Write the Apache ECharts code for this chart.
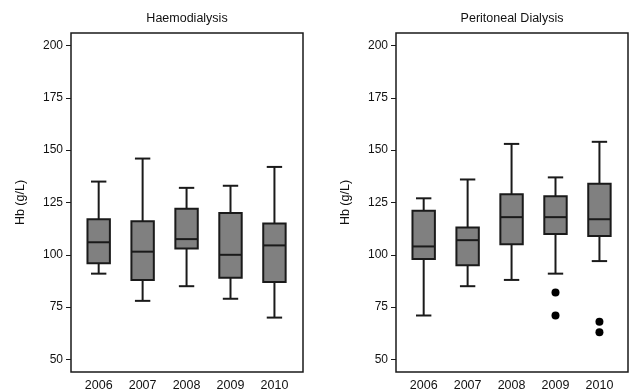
<!DOCTYPE html>
<html>
<head>
<meta charset="utf-8">
<script src="https://cdn.jsdelivr.net/npm/echarts@6/dist/echarts.min.js"></script>
<style>
html,body{margin:0;padding:0;background:#fff;}
#chart{width:635px;height:392px;}
</style>
</head>
<body>
<div id="chart"></div>
<script>
// ---- data ----
const years = ['2006', '2007', '2008', '2009', '2010'];
const yTicks = [50, 75, 100, 125, 150, 175, 200];
const panelTitles = ['Haemodialysis', 'Peritoneal Dialysis'];

// Haemodialysis
const hdLow    = [91, 78, 85, 79, 70];
const hdQ1     = [96, 88, 103, 89, 87];
const hdMedian = [106, 101.5, 107.5, 100, 104.5];
const hdQ3     = [117, 116, 122, 120, 115];
const hdHigh   = [135, 146, 132, 133, 142];
const hdOutliers = [];

// Peritoneal Dialysis
const pdLow    = [71, 85, 88, 91, 97];
const pdQ1     = [98, 95, 105, 110, 109];
const pdMedian = [104, 107, 118, 118, 117];
const pdQ3     = [121, 113, 129, 128, 134];
const pdHigh   = [127, 136, 153, 137, 154];
const pdOutliers = [[4, 82], [4, 71], [5, 68], [5, 63]]; // [year index (1-based), value]

// ---- build ----
function boxData(lo, q1, med, q3, hi) {
  return years.map((y, i) => [i + 1, lo[i], q1[i], med[i], q3[i], hi[i]]);
}

const BOX_W = 0.51;  // in x-axis units
const CAP_W = 0.35;
const INK = '#1a1a1a';
const FONT = 'Liberation Sans, Arial, sans-serif';

function renderBox(params, api) {
  const x = api.value(0);
  const lo = api.coord([x, api.value(1)]);
  const q1 = api.coord([x, api.value(2)]);
  const md = api.coord([x, api.value(3)]);
  const q3 = api.coord([x, api.value(4)]);
  const hi = api.coord([x, api.value(5)]);
  const bw = api.size([BOX_W, 0])[0];
  const cw = api.size([CAP_W, 0])[0];
  const cx = lo[0];
  const ls = { stroke: INK, lineWidth: 2 };
  return {
    type: 'group',
    children: [
      { type: 'line', shape: { x1: cx, y1: q3[1], x2: cx, y2: hi[1] }, style: ls },
      { type: 'line', shape: { x1: cx - cw / 2, y1: hi[1], x2: cx + cw / 2, y2: hi[1] }, style: ls },
      { type: 'line', shape: { x1: cx, y1: q1[1], x2: cx, y2: lo[1] }, style: ls },
      { type: 'line', shape: { x1: cx - cw / 2, y1: lo[1], x2: cx + cw / 2, y2: lo[1] }, style: ls },
      { type: 'rect', shape: { x: cx - bw / 2, y: q3[1], width: bw, height: q1[1] - q3[1] },
        style: { fill: '#808080', stroke: INK, lineWidth: 2 } },
      { type: 'line', shape: { x1: cx - bw / 2, y1: md[1], x2: cx + bw / 2, y2: md[1] }, style: ls }
    ]
  };
}

const gridLefts = [71, 396];
const grids = gridLefts.map(l => ({
  left: l, width: 232, top: 33, height: 339.5,
  show: true, borderColor: INK, borderWidth: 1.5, backgroundColor: 'transparent'
}));

const xAxes = [0, 1].map(g => ({
  type: 'value', gridIndex: g, min: 0.37, max: 5.65,
  axisLine: { show: false }, axisTick: { show: false }, splitLine: { show: false },
  axisLabel: {
    customValues: [1, 2, 3, 4, 5],
    formatter: v => years[Math.round(v) - 1] || '',
    color: '#111', fontSize: 12.5, fontFamily: FONT, margin: 7
  }
}));

const yAxes = [0, 1].map(g => ({
  type: 'value', gridIndex: g, min: 44, max: 206,
  name: 'Hb (g/L)', nameLocation: 'middle', nameGap: 44,
  nameTextStyle: { color: '#111', fontSize: 12.5, fontFamily: FONT },
  axisLine: { show: false },
  axisTick: { show: true, length: 5, customValues: yTicks, lineStyle: { color: INK, width: 1 } },
  splitLine: { show: false },
  axisLabel: { customValues: yTicks, color: '#111', fontSize: 12, fontFamily: FONT, margin: 8 }
}));

const titles = panelTitles.map((t, i) => ({
  text: t, left: gridLefts[i] + 116, top: 12, textAlign: 'center', padding: 0,
  textStyle: { fontSize: 12.5, fontWeight: 'normal', color: '#111', fontFamily: FONT }
}));

const option = {
  animation: false,
  backgroundColor: '#fff',
  title: titles,
  grid: grids,
  xAxis: xAxes,
  yAxis: yAxes,
  series: [
    { type: 'custom', xAxisIndex: 0, yAxisIndex: 0, renderItem: renderBox,
      data: boxData(hdLow, hdQ1, hdMedian, hdQ3, hdHigh), encode: { x: 0, y: [1, 2, 3, 4, 5] } },
    { type: 'custom', xAxisIndex: 1, yAxisIndex: 1, renderItem: renderBox,
      data: boxData(pdLow, pdQ1, pdMedian, pdQ3, pdHigh), encode: { x: 0, y: [1, 2, 3, 4, 5] } },
    { type: 'scatter', xAxisIndex: 0, yAxisIndex: 0, data: hdOutliers,
      symbolSize: 8, itemStyle: { color: '#000', opacity: 1 } },
    { type: 'scatter', xAxisIndex: 1, yAxisIndex: 1, data: pdOutliers,
      symbolSize: 8, itemStyle: { color: '#000', opacity: 1 } }
  ]
};

const chart = echarts.init(document.getElementById('chart'), null, { renderer: 'canvas' });
chart.setOption(option);
</script>
</body>
</html>
